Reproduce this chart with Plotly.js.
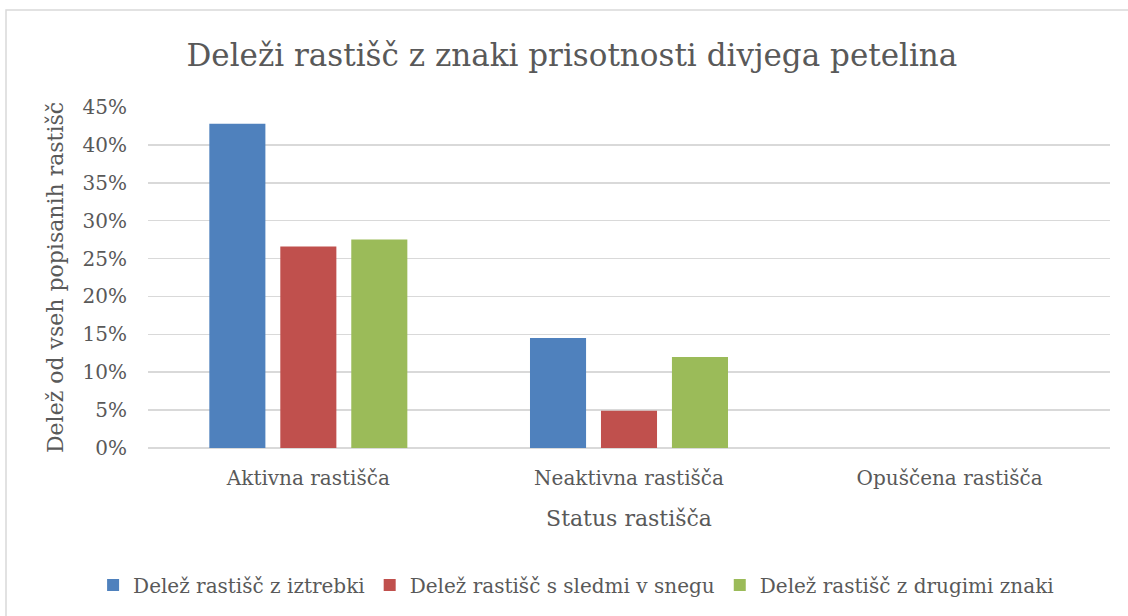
<!DOCTYPE html>
<html>
<head>
<meta charset="utf-8">
<script src="https://cdn.plot.ly/plotly-3.0.1.min.js"></script>
<style>
  html, body { margin: 0; padding: 0; background: #fff; }
  #chart { width: 1128px; height: 616px; }
</style>
</head>
<body>
<div id="chart"></div>
<script>
// categories and series
var categories = ['Aktivna rastišča', 'Neaktivna rastišča', 'Opuščena rastišča'];
var seriesNames = ['Delež rastišč z iztrebki', 'Delež rastišč s sledmi v snegu', 'Delež rastišč z drugimi znaki'];
var iztrebki = [0.428, 0.145, 0];
var sledi = [0.266, 0.049, 0];
var drugiZnaki = [0.275, 0.120, 0];
var colors = ['#4F81BD', '#C0504D', '#9BBB59'];
var yTicks = [0, 0.05, 0.10, 0.15, 0.20, 0.25, 0.30, 0.35, 0.40, 0.45];

var font = 'DejaVu Serif, Liberation Serif, serif';
var txtColor = '#595959';

var values = [iztrebki, sledi, drugiZnaki];
var data = [];
for (var i = 0; i < values.length; i++) {
    data.push({
        type: 'bar',
        name: seriesNames[i],
        x: categories,
        y: values[i],
        marker: {color: colors[i], line: {width: 0}},
        hoverinfo: 'skip'
    });
}

var layout = {
    width: 1128,
    height: 616,
    margin: {l: 148, r: 18, t: 107, b: 168},
    paper_bgcolor: '#fff',
    plot_bgcolor: '#fff',
    font: {family: font, color: txtColor, size: 20},
    title: {
        text: 'Deleži rastišč z znaki prisotnosti divjega petelina',
        font: {size: 31, color: txtColor, family: font},
        x: 0.507, xanchor: 'center', y: 0.91, yanchor: 'middle'
    },
    barmode: 'group',
    bargap: 0.336,
    bargroupgap: 0.21,
    xaxis: {
        title: {text: 'Status rastišča', font: {size: 22}, standoff: 21},
        showline: false,
        ticks: '',
        tickfont: {size: 20},
        ticklabelstandoff: 16,
        showgrid: false
    },
    yaxis: {
        title: {text: 'Delež od vseh popisanih rastišč', font: {size: 22}, standoff: 12},
        range: [0, 0.45],
        tickvals: yTicks,
        tickformat: '.0%',
        showgrid: true,
        gridcolor: '#D9D9D9',
        gridwidth: 1.5,
        zeroline: true,
        zerolinecolor: '#D9D9D9',
        zerolinewidth: 1.5,
        ticks: '',
        ticklabelstandoff: 20,
        tickfont: {size: 20}
    },
    showlegend: true,
    legend: {
        orientation: 'h',
        x: 0.445, xanchor: 'center',
        y: -0.402, yanchor: 'middle',
        font: {size: 20},
        traceorder: 'normal'
    },
    shapes: [{
        type: 'rect', xref: 'paper', yref: 'paper',
        x0: -0.1476, x1: 1.1, y0: -0.6, y1: 1.2845,
        line: {color: '#D9D9D9', width: 1.5},
        fillcolor: 'rgba(0,0,0,0)'
    }]
};

Plotly.newPlot('chart', data, layout, {staticPlot: true});
</script>
</body>
</html>
